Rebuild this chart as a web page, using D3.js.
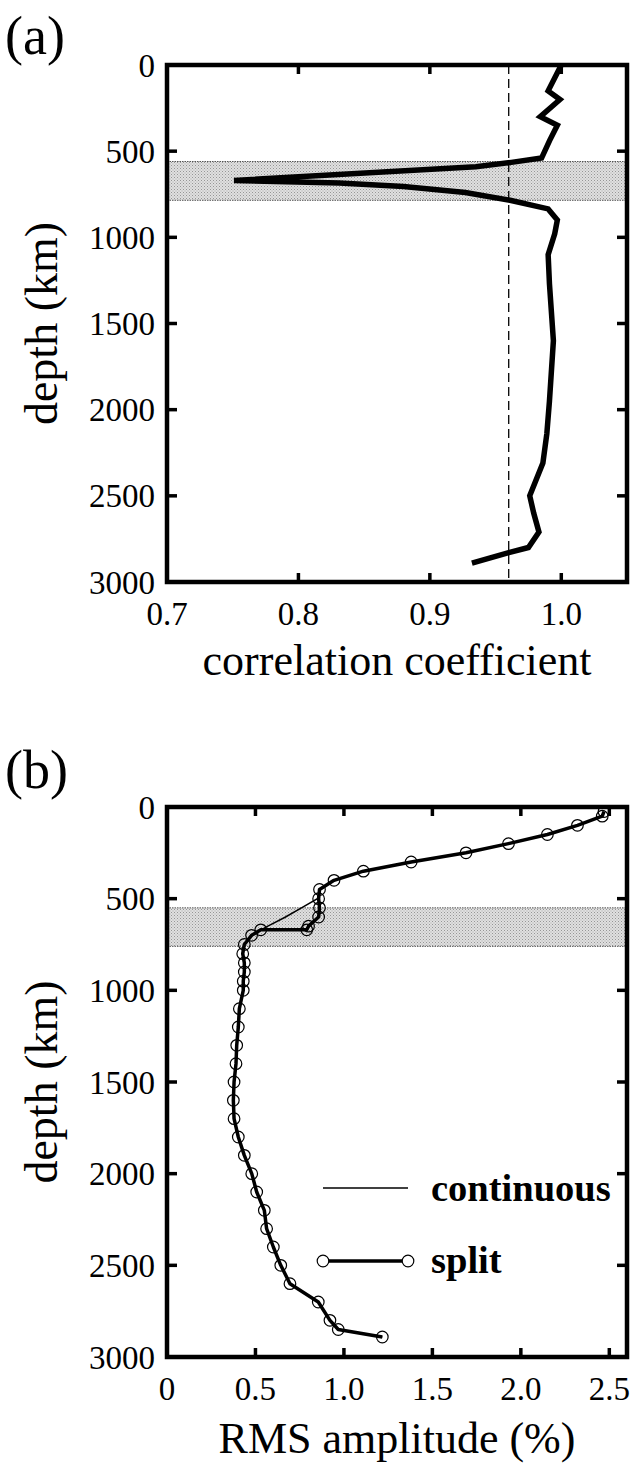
<!DOCTYPE html>
<html>
<head>
<meta charset="utf-8">
<script src="https://cdn.jsdelivr.net/npm/d3@7/dist/d3.min.js"></script>
<style>
  html, body { margin: 0; padding: 0; background: #fff; }
  svg { display: block; }
  text { font-family: "Liberation Serif", "Times New Roman", serif; fill: #000; }
</style>
</head>
<body>
<div id="chart"></div>
<script>
// Panel (a): correlation coefficient versus depth
const corrDepth = [0, 150, 200, 300, 350, 440, 540, 565, 590, 670, 685, 705, 740, 785, 835, 900, 980, 1100, 1270, 1600, 1950, 2140, 2310, 2500, 2600, 2710, 2800, 2830, 2890];
const corrValue = [1.000, 0.990, 0.999, 0.984, 0.997, 0.991, 0.985, 0.962, 0.935, 0.751, 0.831, 0.880, 0.927, 0.961, 0.990, 0.997, 0.995, 0.990, 0.991, 0.994, 0.991, 0.989, 0.986, 0.976, 0.979, 0.983, 0.975, 0.960, 0.932];
const corrThreshold = 0.96;
const corrTicks = [0.7, 0.8, 0.9, 1.0];
const corrBand = [560, 785];

// Panel (b): RMS amplitude versus depth
const splitDepth = [25, 50, 100, 150, 200, 250, 300, 350, 400, 450, 500, 550, 600, 650, 670, 670, 700, 750, 800, 850, 900, 950, 1000, 1100, 1200, 1300, 1400, 1500, 1600, 1700, 1800, 1900, 2000, 2100, 2200, 2300, 2400, 2500, 2600, 2700, 2800, 2850, 2891];
const splitRms = [2.47, 2.46, 2.32, 2.15, 1.93, 1.69, 1.38, 1.11, 0.944, 0.862, 0.857, 0.862, 0.857, 0.80, 0.79, 0.53, 0.478, 0.437, 0.428, 0.437, 0.437, 0.431, 0.431, 0.409, 0.403, 0.394, 0.390, 0.379, 0.375, 0.379, 0.403, 0.437, 0.479, 0.507, 0.550, 0.563, 0.601, 0.643, 0.695, 0.855, 0.921, 0.968, 1.217];
const contDepth = [25, 50, 100, 150, 200, 250, 300, 350, 400, 450, 500, 550, 600, 650, 700, 750, 800, 850, 900, 950, 1000, 1100, 1200, 1300, 1400, 1500, 1600, 1700, 1800, 1900, 2000, 2100, 2200, 2300, 2400, 2500, 2600, 2700, 2800, 2850, 2891];
const contRms = [2.47, 2.46, 2.32, 2.15, 1.93, 1.69, 1.38, 1.11, 0.944, 0.865, 0.85, 0.76, 0.67, 0.57, 0.478, 0.437, 0.428, 0.437, 0.437, 0.431, 0.431, 0.409, 0.403, 0.394, 0.390, 0.379, 0.375, 0.379, 0.403, 0.437, 0.479, 0.507, 0.550, 0.563, 0.601, 0.643, 0.695, 0.855, 0.921, 0.968, 1.217];
const rmsTicks = [0, 0.5, 1.0, 1.5, 2.0, 2.5];
const rmsBand = [550, 760];

const depthTicks = [0, 500, 1000, 1500, 2000, 2500, 3000];
const legendLabels = ["continuous", "split"];

const W = 632, H = 1463;
const svg = d3.select("#chart").append("svg").attr("width", W).attr("height", H);
svg.append("rect").attr("width", W).attr("height", H).attr("fill", "#fff");

// stippled fill for the transition-zone band
const defs = svg.append("defs");
const pat = defs.append("pattern").attr("id", "stipple").attr("patternUnits", "userSpaceOnUse")
  .attr("width", 3).attr("height", 3);
pat.append("rect").attr("width", 3).attr("height", 3).attr("fill", "#e0e0e0");
pat.append("rect").attr("x", 0).attr("y", 0).attr("width", 1).attr("height", 1).attr("fill", "#969696");
pat.append("rect").attr("x", 1.5).attr("y", 1.5).attr("width", 1).attr("height", 1).attr("fill", "#aaaaaa");

function panel(opts) {
  const { x, y, g, xTicks, xFmt, band, title, xTitle, xTitleY, labelY } = opts;
  const [x0, x1] = x.range();
  const [y0, y1] = y.range();

  // band
  g.append("rect").attr("x", x0).attr("y", y(band[0])).attr("width", x1 - x0)
    .attr("height", y(band[1]) - y(band[0])).attr("fill", "url(#stipple)");
  band.forEach(d => g.append("line").attr("x1", x0).attr("x2", x1).attr("y1", y(d)).attr("y2", y(d))
    .attr("stroke", "#555").attr("stroke-width", 1).attr("stroke-dasharray", "1.5,1"));

  // inward ticks on all four sides
  const inner = depthTicks.filter(d => d > 0 && d < 3000);
  const ticksG = g.append("g").attr("stroke", "#000").attr("stroke-width", 3.5);
  inner.forEach(d => {
    ticksG.append("line").attr("x1", x0).attr("x2", x0 + 10).attr("y1", y(d)).attr("y2", y(d));
    ticksG.append("line").attr("x1", x1).attr("x2", x1 - 10).attr("y1", y(d)).attr("y2", y(d));
  });
  const innerX = xTicks.filter(v => x(v) > x0 + 1 && x(v) < x1 - 1);
  innerX.forEach(v => {
    ticksG.append("line").attr("x1", x(v)).attr("x2", x(v)).attr("y1", y0).attr("y2", y0 + 9);
    ticksG.append("line").attr("x1", x(v)).attr("x2", x(v)).attr("y1", y1).attr("y2", y1 - 9);
  });

  // tick labels
  depthTicks.forEach(d => g.append("text").attr("x", x0 - 12).attr("y", y(d)).attr("dy", "0.35em")
    .attr("text-anchor", "end").attr("font-size", 33).text(d));
  xTicks.forEach(v => g.append("text").attr("x", x(v)).attr("y", y1 + 43)
    .attr("text-anchor", "middle").attr("font-size", 33).text(xFmt(v)));

  // axis titles
  g.append("text").attr("transform", `translate(57,${(y0 + y1) / 2}) rotate(-90)`)
    .attr("text-anchor", "middle").attr("font-size", 46).text("depth (km)");
  g.append("text").attr("x", (x0 + x1) / 2).attr("y", xTitleY)
    .attr("text-anchor", "middle").attr("font-size", 44).text(xTitle);
  g.append("text").attr("x", 5).attr("y", labelY).attr("font-size", 54).text(title);
}

function frame(g, x, y) {
  const [x0, x1] = x.range();
  const [y0, y1] = y.range();
  g.append("rect").attr("x", x0).attr("y", y0).attr("width", x1 - x0).attr("height", y1 - y0)
    .attr("fill", "none").attr("stroke", "#000").attr("stroke-width", 4.5);
}

// ---- panel (a)
const xa = d3.scaleLinear().domain([0.7, 1.05]).range([167, 627]);
const ya = d3.scaleLinear().domain([0, 3000]).range([65, 582]);
const ga = svg.append("g");
panel({ x: xa, y: ya, g: ga, xTicks: corrTicks, xFmt: d3.format(".1f"), band: corrBand,
  title: "(a)", xTitle: "correlation coefficient", xTitleY: 675, labelY: 54 });
ga.append("line").attr("x1", xa(corrThreshold)).attr("x2", xa(corrThreshold))
  .attr("y1", ya(0)).attr("y2", ya(3000))
  .attr("stroke", "#000").attr("stroke-width", 1.3).attr("stroke-dasharray", "9,5");
ga.append("path").datum(corrDepth.map((d, i) => [corrValue[i], d]))
  .attr("fill", "none").attr("stroke", "#000").attr("stroke-width", 5.5).attr("stroke-linejoin", "miter")
  .attr("stroke-miterlimit", 10)
  .attr("d", d3.line().x(p => xa(p[0])).y(p => ya(p[1])));
frame(ga, xa, ya);

// ---- panel (b)
const xb = d3.scaleLinear().domain([0, 2.6]).range([167, 627]);
const yb = d3.scaleLinear().domain([0, 3000]).range([807, 1357]);
const gb = svg.append("g");
panel({ x: xb, y: yb, g: gb, xTicks: rmsTicks, xFmt: v => v === 0 ? "0" : d3.format(".1f")(v), band: rmsBand,
  title: "(b)", xTitle: "RMS amplitude (%)", xTitleY: 1453, labelY: 788 });
const lineB = d3.line().x(p => xb(p[0])).y(p => yb(p[1]));
gb.append("path").datum(contDepth.map((d, i) => [contRms[i], d]))
  .attr("fill", "none").attr("stroke", "#000").attr("stroke-width", 1.5).attr("d", lineB);
const splitPts = splitDepth.map((d, i) => [splitRms[i], d]);
gb.append("path").datum(splitPts)
  .attr("fill", "none").attr("stroke", "#000").attr("stroke-width", 3.5).attr("stroke-linejoin", "round")
  .attr("d", lineB);
gb.selectAll("circle.pt").data(splitPts).join("circle").attr("class", "pt")
  .attr("cx", p => xb(p[0])).attr("cy", p => yb(p[1])).attr("r", 5.8)
  .attr("fill", "none").attr("stroke", "#000").attr("stroke-width", 1.2);

// legend
const lg = gb.append("g");
lg.append("line").attr("x1", 323).attr("x2", 408).attr("y1", 1188).attr("y2", 1188)
  .attr("stroke", "#000").attr("stroke-width", 1.5);
lg.append("text").attr("x", 431).attr("y", 1201).attr("font-size", 38.5).attr("font-weight", "bold").text(legendLabels[0]);
lg.append("line").attr("x1", 323).attr("x2", 408).attr("y1", 1261).attr("y2", 1261)
  .attr("stroke", "#000").attr("stroke-width", 3.5);
[323, 408].forEach(cx => lg.append("circle").attr("cx", cx).attr("cy", 1261).attr("r", 5.8)
  .attr("fill", "#fff").attr("stroke", "#000").attr("stroke-width", 1.2));
lg.append("text").attr("x", 431).attr("y", 1273).attr("font-size", 38.5).attr("font-weight", "bold").text(legendLabels[1]);

frame(gb, xb, yb);
</script>
</body>
</html>
